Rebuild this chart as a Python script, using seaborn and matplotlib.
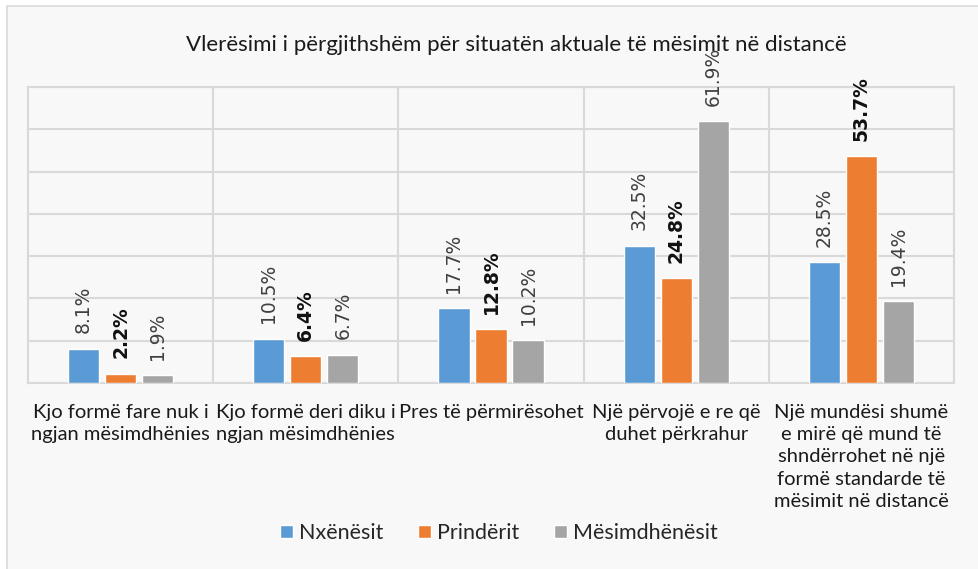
import matplotlib
matplotlib.use('Agg')
import matplotlib.pyplot as plt
from matplotlib.patches import Rectangle
import pandas as pd
import seaborn as sns

categories = ['Kjo formë fare nuk i\nngjan mësimdhënies',
              'Kjo formë deri diku i\nngjan mësimdhënies',
              'Pres të përmirësohet',
              'Një përvojë e re që\nduhet përkrahur',
              'Një mundësi shumë\ne mirë që mund të\nshndërrohet në një\nformë standarde të\nmësimit në distancë']
series = ['Nxënësit', 'Prindërit', 'Mësimdhënësit']
nxenesit = [8.1, 10.5, 17.7, 32.5, 28.5]
prinderit = [2.2, 6.4, 12.8, 24.8, 53.7]
mesimdhenesit = [1.9, 6.7, 10.2, 61.9, 19.4]
colors = ['#5B9BD5', '#ED7D31', '#A5A5A5']

sns.set_style('white')
plt.rcParams['font.family'] = ['Lato', 'DejaVu Sans']

df = pd.DataFrame({
    'kategoria': categories * 3,
    'grupi': [s for s in series for _ in categories],
    'vlera': nxenesit + prinderit + mesimdhenesit,
})

fig = plt.figure(figsize=(9.79, 5.69), dpi=100, facecolor='white')
# chart frame
fig.patches.append(Rectangle((7 / 979, -0.1), 1.2, 1 - 6 / 569 + 0.1, transform=fig.transFigure,
                             facecolor='#f8f8f8', edgecolor='#d9d9d9', linewidth=1.2, zorder=-5))
ax = fig.add_axes([28 / 979, 1 - 383 / 569, 926 / 979, 296 / 569])
ax.set_facecolor('#f8f8f8')

sns.barplot(data=df, x='kategoria', y='vlera', hue='grupi', palette=colors,
            width=0.6, gap=0.16, ax=ax, saturation=1, zorder=3)

ax.set_ylim(0, 70)
ax.set_xlim(-0.5, 4.5)
ax.set_yticks(range(0, 71, 10))
ax.set_yticklabels([])
ax.grid(axis='y', color='#d9d9d9', linewidth=1.5, zorder=0)
for x in [0.5, 1.5, 2.5, 3.5]:
    ax.axvline(x, color='#d9d9d9', linewidth=1.5, zorder=0)
for sp in ax.spines.values():
    sp.set_color('#d9d9d9')
    sp.set_linewidth(1.5)
ax.tick_params(axis='both', length=0)
ax.tick_params(axis='x', pad=15)
ax.set_xticks(range(len(categories)))
ax.set_xticklabels(categories, fontsize=14.5, color='#1a1a1a')
for t in ax.get_xticklabels():
    t.set_linespacing(1.38)
ax.set_xlabel('')
ax.set_ylabel('')

for i, cont in enumerate(ax.containers):
    bold = (i == 1)
    ax.bar_label(cont, labels=[f'{v:.1f}%' for v in cont.datavalues], rotation=90,
                 padding=11, fontsize=13.5, family='DejaVu Sans',
                 color='#111111' if bold else '#404040',
                 fontweight='bold' if bold else 'normal')

handles, labels = ax.get_legend_handles_labels()
ax.get_legend().remove()
fig.legend(handles, labels, loc='center', bbox_to_anchor=(499 / 979, 1 - 533 / 569), ncol=3,
           frameon=False, fontsize=15.5, handlelength=0.6, handleheight=0.6,
           handletextpad=0.3, columnspacing=1.6)

fig.text(516 / 979, 1 - 45 / 569, 'Vlerësimi i përgjithshëm për situatën aktuale të mësimit në distancë',
         ha='center', va='center', fontsize=16, color='#1a1a1a')

fig.savefig('out.png', dpi=100, facecolor='white')
